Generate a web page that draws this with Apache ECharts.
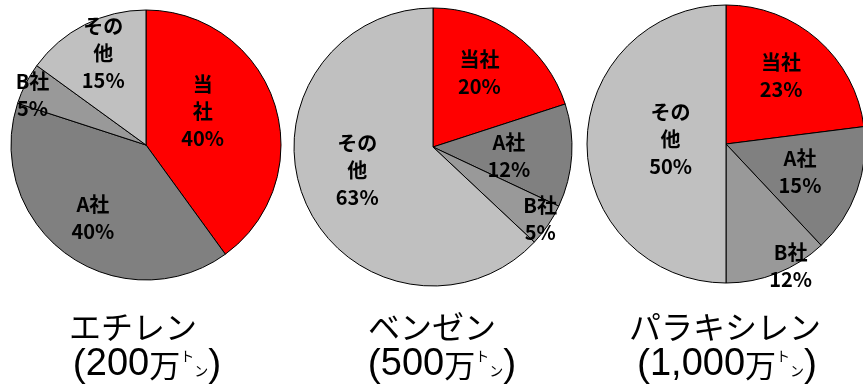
<!DOCTYPE html>
<html>
<head>
<meta charset="utf-8">
<script src="https://cdn.jsdelivr.net/npm/echarts@6/dist/echarts.min.js"></script>
<style>
  html, body { margin: 0; padding: 0; background: #fff; }
  #chart { width: 863px; height: 391px; }
</style>
</head>
<body>
<div id="chart"></div>
<script>
// Market share by company for three petrochemical products (%)
const companies = ['当社', 'A社', 'B社', 'その他'];
const ethyleneShare = [40, 40, 5, 15];
const benzeneShare = [20, 12, 5, 63];
const paraxyleneShare = [23, 15, 12, 50];

// Product names and annual market size (万トン)
const productNames = ['エチレン', 'ベンゼン', 'パラキシレン'];
const marketSizes = ['200', '500', '1,000'];

// Label wording per pie (line breaks inside the slices)
const ethyleneLabelNames = ['当\n社', 'A社', 'B社', 'その\n他'];
const otherLabelNames = ['当社', 'A社', 'B社', 'その\n他'];

const sliceColors = ['#ff0000', '#808080', '#999999', '#c0c0c0'];

// Layout of each pie: centre, radius, label placement (angle from top in degrees, fraction of radius),
// and the centres of the two caption lines underneath.
const pieLayouts = [
  { center: [146, 145], r: 135, labelPolar: [[59, 0.49], [216, 0.67], [294, 0.92], [335, 0.75]], cap1: [133, 327], cap2: [147, 365] },
  { center: [433, 147], r: 139, labelPolar: [[32, 0.63], [97, 0.55], [124, 0.93], [253, 0.57]], cap1: [432, 327], cap2: [442, 365] },
  { center: [726, 144], r: 139, labelPolar: [[39, 0.63], [111, 0.57], [152, 0.99], [275, 0.40]], cap1: [725, 327], cap2: [727, 365] }
];

const shares = [ethyleneShare, benzeneShare, paraxyleneShare];
const labelNameSets = [ethyleneLabelNames, otherLabelNames, otherLabelNames];

const series = shares.map(function (values, i) {
  const lay = pieLayouts[i];
  return {
    type: 'pie',
    center: lay.center,
    radius: [0, lay.r],
    startAngle: 90,
    clockwise: true,
    avoidLabelOverlap: false,
    silent: true,
    animation: false,
    data: values.map(function (v, k) {
      return { name: labelNameSets[i][k], value: v, itemStyle: { color: sliceColors[k] } };
    }),
    itemStyle: { borderColor: '#000', borderWidth: 1 },
    label: {
      show: true,
      position: 'inside',
      formatter: function (p) { return p.name + '\n' + p.value + '%'; },
      color: '#000',
      fontFamily: '"Noto Sans CJK JP", sans-serif',
      fontWeight: 'bold',
      fontSize: 20,
      lineHeight: 27,
      align: 'center'
    },
    labelLine: { show: false },
    labelLayout: function (params) {
      const pl = lay.labelPolar[params.dataIndex];
      const a = pl[0] * Math.PI / 180;
      return {
        x: lay.center[0] + Math.sin(a) * pl[1] * lay.r,
        y: lay.center[1] - Math.cos(a) * pl[1] * lay.r,
        align: 'center',
        verticalAlign: 'middle'
      };
    }
  };
});

const captionRich = {
  p: { fontFamily: '"Liberation Sans", Arial, sans-serif', fontSize: 39, fill: '#000' },
  d: { fontFamily: '"Liberation Sans", Arial, sans-serif', fontSize: 38, fill: '#000' },
  m: { fontFamily: '"Noto Sans CJK JP", sans-serif', fontSize: 31, fill: '#000' },
  t: { fontFamily: '"Noto Sans CJK JP", sans-serif', fontSize: 14, lineHeight: 14, fill: '#000', verticalAlign: 'middle', padding: [0, 0, 18, 0] },
  n: { fontFamily: '"Noto Sans CJK JP", sans-serif', fontSize: 14, lineHeight: 14, fill: '#000', verticalAlign: 'middle', padding: [12, 0, 0, 0] }
};

const graphics = [];
productNames.forEach(function (name, i) {
  const lay = pieLayouts[i];
  graphics.push({
    type: 'text', x: lay.cap1[0], y: lay.cap1[1], silent: true,
    style: {
      text: name,
      font: '32px "Noto Sans CJK JP", sans-serif',
      fill: '#000', align: 'center', verticalAlign: 'middle'
    }
  });
  graphics.push({
    type: 'text', x: lay.cap2[0], y: lay.cap2[1], silent: true,
    style: {
      text: '{p|(}{d|' + marketSizes[i] + '}{m|万}{t|ト}{n|ン}{p|)}',
      rich: captionRich,
      fill: '#000', align: 'center', verticalAlign: 'middle'
    }
  });
});

const chart = echarts.init(document.getElementById('chart'), null, { renderer: 'canvas' });
chart.setOption({
  backgroundColor: '#fff',
  animation: false,
  series: series,
  graphic: graphics
});
</script>
</body>
</html>
